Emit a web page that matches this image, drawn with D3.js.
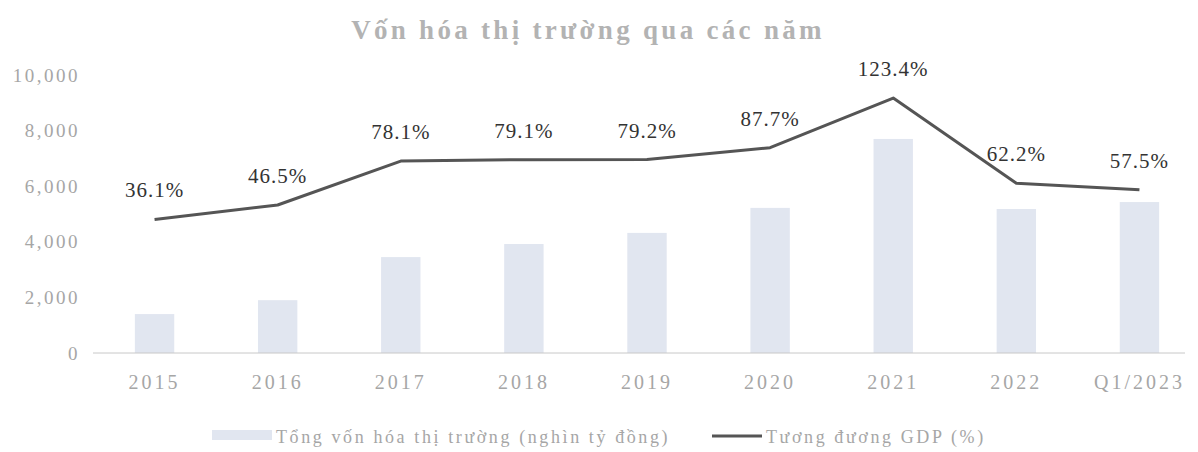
<!DOCTYPE html>
<html>
<head>
<meta charset="utf-8">
<script src="https://cdn.jsdelivr.net/npm/d3@7"></script>
<style>
  body { margin: 0; background: #fff; }
  text { font-family: "Liberation Serif", "DejaVu Serif", serif; }
</style>
</head>
<body>
<div id="chart"></div>
<script>
// data
const categories = ["2015", "2016", "2017", "2018", "2019", "2020", "2021", "2022", "Q1/2023"];
const capValues = [1400, 1900, 3450, 3920, 4320, 5220, 7700, 5180, 5430];
const gdpValues = [36.1, 46.5, 78.1, 79.1, 79.2, 87.7, 123.4, 62.2, 57.5];
const yTicks = [0, 2000, 4000, 6000, 8000, 10000];

const width = 1198, height = 452;
const margin = { top: 75, right: -3, bottom: 99, left: 93 };

const svg = d3.select("#chart").append("svg")
    .attr("width", width)
    .attr("height", height);

const x = d3.scaleBand()
    .domain(categories)
    .range([margin.left, width - margin.right])
    .paddingInner(0.68)
    .paddingOuter(0.34);

const y = d3.scaleLinear()
    .domain([0, 10000])
    .range([height - margin.bottom, margin.top]);

// hidden secondary axis for the GDP line
const y2 = d3.scaleLinear()
    .domain([-60, 140])
    .range([height - margin.bottom, margin.top]);

const cx = d => x(d) + x.bandwidth() / 2;

// title
svg.append("text")
    .attr("x", 588)
    .attr("y", 39)
    .attr("text-anchor", "middle")
    .attr("fill", "#b3b3b3")
    .attr("font-weight", "bold")
    .attr("font-size", 27)
    .attr("letter-spacing", 3.3)
    .text("Vốn hóa thị trường qua các năm");

// y axis labels
svg.append("g")
    .selectAll("text")
    .data(yTicks)
    .join("text")
    .attr("x", 80)
    .attr("y", d => y(d))
    .attr("dy", "0.35em")
    .attr("text-anchor", "end")
    .attr("fill", "#a6a6a6")
    .attr("font-size", 19)
    .attr("letter-spacing", 2.5)
    .text(d => d3.format(",")(d));

// bars
svg.append("g")
    .selectAll("rect")
    .data(capValues)
    .join("rect")
    .attr("x", (d, i) => x(categories[i]))
    .attr("y", d => y(d))
    .attr("width", x.bandwidth())
    .attr("height", d => y(0) - y(d))
    .attr("fill", "#e1e6f0");

// baseline
svg.append("line")
    .attr("x1", margin.left)
    .attr("x2", 1185)
    .attr("y1", y(0))
    .attr("y2", y(0))
    .attr("stroke", "#c8c8c8")
    .attr("stroke-width", 1);

// x labels
svg.append("g")
    .selectAll("text")
    .data(categories)
    .join("text")
    .attr("x", d => cx(d))
    .attr("y", 389)
    .attr("text-anchor", "middle")
    .attr("fill", "#a6a6a6")
    .attr("font-size", 20)
    .attr("letter-spacing", 3)
    .text(d => d);

// GDP line
const line = d3.line()
    .x((d, i) => cx(categories[i]))
    .y(d => y2(d));

svg.append("path")
    .datum(gdpValues)
    .attr("d", line)
    .attr("fill", "none")
    .attr("stroke", "#555")
    .attr("stroke-width", 3)
    .attr("stroke-linejoin", "round");

// line labels
svg.append("g")
    .selectAll("text")
    .data(gdpValues)
    .join("text")
    .attr("x", (d, i) => cx(categories[i]))
    .attr("y", d => y2(d) - 22)
    .attr("text-anchor", "middle")
    .attr("fill", "#333")
    .attr("font-size", 21)
    .attr("letter-spacing", 1)
    .text(d => d.toFixed(1) + "%");

// legend
const legend = svg.append("g");
legend.append("rect")
    .attr("x", 212).attr("y", 430)
    .attr("width", 60).attr("height", 10)
    .attr("fill", "#e1e6f0");
legend.append("text")
    .attr("x", 276).attr("y", 443)
    .attr("fill", "#a6a6a6")
    .attr("font-size", 18)
    .attr("letter-spacing", 2.6)
    .text("Tổng vốn hóa thị trường (nghìn tỷ đồng)");
legend.append("line")
    .attr("x1", 712).attr("x2", 762)
    .attr("y1", 436).attr("y2", 436)
    .attr("stroke", "#555")
    .attr("stroke-width", 3);
legend.append("text")
    .attr("x", 766).attr("y", 443)
    .attr("fill", "#a6a6a6")
    .attr("font-size", 18)
    .attr("letter-spacing", 2.6)
    .text("Tương đương GDP (%)");
</script>
</body>
</html>
